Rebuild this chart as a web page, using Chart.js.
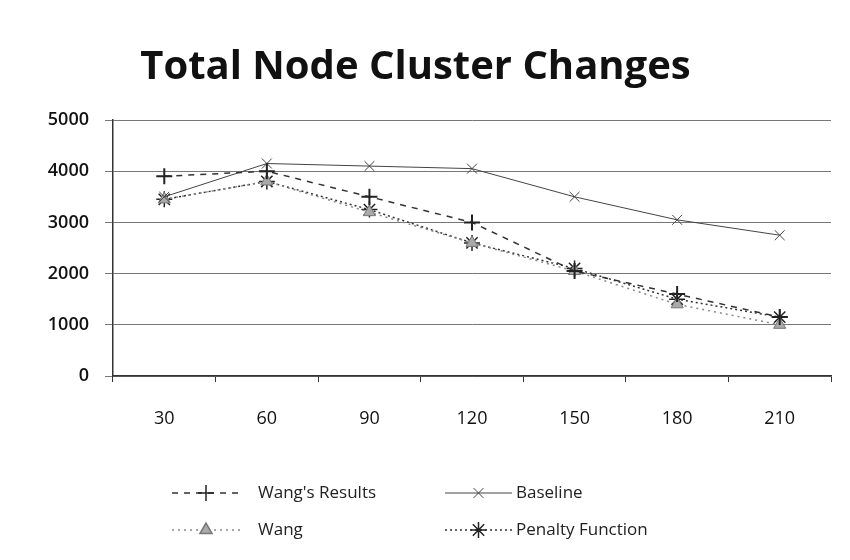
<!DOCTYPE html>
<html>
<head>
<meta charset="utf-8">
<script src="https://cdn.jsdelivr.net/npm/chart.js@4/dist/chart.umd.min.js"></script>
<style>
  html, body { margin: 0; padding: 0; background: #fff; }
  #wrap { width: 850px; height: 560px; }
</style>
</head>
<body>
<div id="wrap"><canvas id="lineChart" width="850" height="560"></canvas></div>
<script>
// values
const categories = ['30', '60', '90', '120', '150', '180', '210'];
const wangResults = [3900, 4000, 3500, 3000, 2050, 1600, 1150];
const baseline = [3500, 4150, 4100, 4050, 3500, 3050, 2750];
const wang = [3450, 3800, 3200, 2600, 2050, 1400, 1000];
const penalty = [3450, 3800, 3250, 2600, 2100, 1500, 1150];
const yTicks = [0, 1000, 2000, 3000, 4000, 5000];

const fontFamily = "'Open Sans', 'Liberation Sans', sans-serif";

// Excel-style legend: 2 columns x 2 rows under the axis
const legendGrid = {
    id: 'legendGrid',
    afterDraw(chart) {
        const ctx = chart.ctx;
        const cols = [{ x1: 172, x2: 240, tx: 258 }, { x1: 445, x2: 512, tx: 516 }];
        const rows = [493, 530];
        chart.data.datasets.forEach((ds, i) => {
            const c = cols[i % 2];
            const y = rows[Math.floor(i / 2)];
            ctx.save();
            ctx.strokeStyle = ds.borderColor;
            ctx.lineWidth = ds.borderWidth;
            ctx.setLineDash(ds.borderDash || []);
            ctx.beginPath();
            ctx.moveTo(c.x1, y);
            ctx.lineTo(c.x2, y);
            ctx.stroke();
            ctx.setLineDash([]);
            ctx.strokeStyle = ds.pointBorderColor;
            ctx.fillStyle = ds.pointBackgroundColor;
            Chart.helpers.drawPoint(ctx, {
                pointStyle: ds.pointStyle,
                radius: ds.pointRadius,
                rotation: 0,
                borderWidth: ds.pointBorderWidth
            }, (c.x1 + c.x2) / 2, y);
            ctx.fillStyle = '#222';
            ctx.font = '17px ' + fontFamily;
            ctx.textBaseline = 'middle';
            ctx.textAlign = 'left';
            ctx.fillText(ds.label, c.tx, y);
            ctx.restore();
        });
    }
};

const ctx = document.getElementById('lineChart').getContext('2d');
new Chart(ctx, {
    type: 'line',
    data: {
        labels: categories,
        datasets: [{
            label: "Wang's Results",
            data: wangResults,
            borderColor: '#333',
            borderWidth: 1.5,
            borderDash: [6, 6],
            pointStyle: 'cross',
            pointRadius: 8,
            pointBorderWidth: 2,
            pointBorderColor: '#222',
            pointBackgroundColor: '#222'
        }, {
            label: 'Baseline',
            data: baseline,
            borderColor: '#444',
            borderWidth: 1,
            pointStyle: 'crossRot',
            pointRadius: 7,
            pointBorderWidth: 1,
            pointBorderColor: '#444',
            pointBackgroundColor: '#444'
        }, {
            label: 'Wang',
            data: wang,
            borderColor: '#888',
            borderWidth: 1.5,
            borderDash: [2, 4],
            pointStyle: 'triangle',
            pointRadius: 7,
            pointBorderWidth: 1,
            pointBorderColor: '#777',
            pointBackgroundColor: '#aaa'
        }, {
            label: 'Penalty Function',
            data: penalty,
            borderColor: '#333',
            borderWidth: 1.5,
            borderDash: [2, 3],
            pointStyle: 'star',
            pointRadius: 8,
            pointBorderWidth: 1.5,
            pointBorderColor: '#222',
            pointBackgroundColor: '#222'
        }]
    },
    options: {
        responsive: false,
        animation: false,
        layout: { padding: { left: 0, right: 19, top: 0, bottom: 114 } },
        plugins: {
            legend: { display: false },
            tooltip: { enabled: false },
            title: {
                display: true,
                text: 'Total Node Cluster Changes',
                color: '#111',
                font: { family: fontFamily, size: 40, weight: 'bold', lineHeight: 1.2 },
                padding: { top: 44, bottom: 28 }
            }
        },
        scales: {
            x: {
                offset: true,
                afterFit(scale) { scale.height = 70; },
                grid: {
                    display: true,
                    offset: true,
                    drawOnChartArea: false,
                    tickLength: 6,
                    color: '#333'
                },
                border: { color: '#333', width: 1.5 },
                ticks: {
                    color: '#111',
                    padding: 26,
                    font: { family: fontFamily, size: 18 }
                }
            },
            y: {
                min: 0,
                max: 5000,
                afterFit(scale) { scale.width = 113; },
                afterBuildTicks(scale) { scale.ticks = yTicks.map(v => ({ value: v })); },
                grid: {
                    color: '#777',
                    lineWidth: 1,
                    tickLength: 8
                },
                border: { color: '#333', width: 1.5 },
                ticks: {
                    color: '#111',
                    padding: 16,
                    callback: v => String(v),
                    font: { family: fontFamily, size: 18, weight: '600' }
                }
            }
        }
    },
    plugins: [legendGrid]
});
</script>
</body>
</html>
